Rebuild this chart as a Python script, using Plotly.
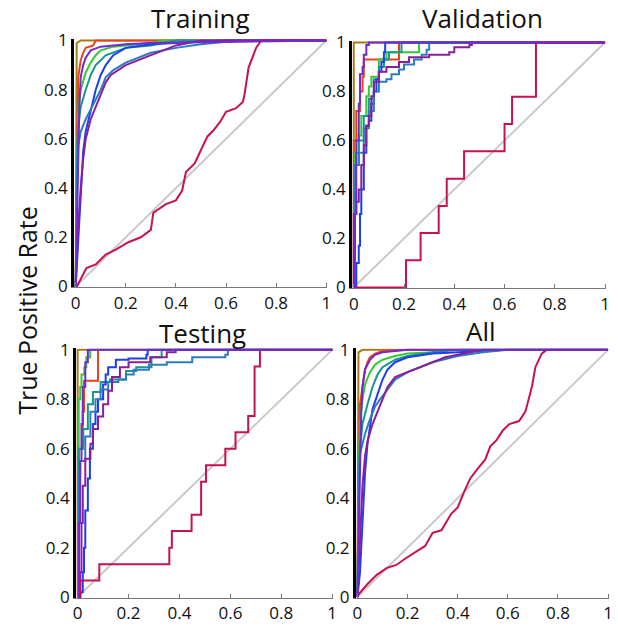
import plotly.graph_objects as go

# ROC curves of a 9-class classifier on four data splits
classes = ["Class 1", "Class 2", "Class 3", "Class 4", "Class 5",
           "Class 6", "Class 7", "Class 8", "Class 9"]
class_colors = ["#A97A17", "#E9421B", "#35C935", "#17968A", "#1E3CF2",
                "#2C7CC0", "#8A1E9B", "#C8124F", "#7228D4"]
panel_titles = ["Training", "Validation", "Testing", "All"]
tick_vals = [0, 0.2, 0.4, 0.6, 0.8, 1]
tick_text = ["0", "0.2", "0.4", "0.6", "0.8", "1"]

# ---------------- Training ----------------
train_fpr = {
    "Class 1": [0, 0.004, 0.02, 1],
    "Class 2": [0, 0.005, 0.01, 0.02, 0.03, 0.04, 0.07, 0.08, 1],
    "Class 3": [0, 0.005, 0.01, 0.02, 0.04, 0.06, 0.08, 0.1, 0.15, 0.2, 0.3, 0.35, 1],
    "Class 4": [0, 0.005, 0.01, 0.02, 0.04, 0.06, 0.08, 0.12, 0.2, 0.3, 0.4, 1],
    "Class 5": [0, 0.01, 0.02, 0.03, 0.04, 0.06, 0.08, 0.1, 0.12, 0.15, 0.2, 0.3, 0.4, 0.6, 1],
    "Class 6": [0, 0.005, 0.01, 0.02, 0.04, 0.06, 0.08, 0.1, 0.12, 0.15, 0.2, 0.25, 0.3, 0.4, 0.5, 0.6, 0.7, 1],
    "Class 7": [0, 0.01, 0.02, 0.03, 0.04, 0.06, 0.08, 0.1, 0.12, 0.14, 0.17, 0.2, 0.25, 0.3, 0.35, 0.4, 0.45, 0.5, 1],
    "Class 8": [0, 0.005, 0.03, 0.043, 0.08, 0.12, 0.16, 0.21, 0.26, 0.3, 0.31, 0.36, 0.4, 0.425, 0.44,
                0.475, 0.5, 0.526, 0.55, 0.577, 0.6, 0.64, 0.667, 0.673, 0.69, 0.72, 0.737, 0.74, 1],
    "Class 9": [0, 0.005, 0.01, 0.015, 0.02, 0.03, 0.04, 0.06, 0.1, 0.2, 0.3, 1],
}
train_tpr = {
    "Class 1": [0, 0.99, 1, 1],
    "Class 2": [0, 0.6, 0.85, 0.92, 0.95, 0.97, 0.98, 1, 1],
    "Class 3": [0, 0.5, 0.7, 0.8, 0.87, 0.91, 0.94, 0.96, 0.975, 0.98, 0.99, 1, 1],
    "Class 4": [0, 0.55, 0.65, 0.73, 0.8, 0.86, 0.9, 0.94, 0.97, 0.98, 1, 1],
    "Class 5": [0, 0.2, 0.4, 0.55, 0.63, 0.72, 0.8, 0.86, 0.9, 0.94, 0.97, 0.985, 0.99, 1, 1],
    "Class 6": [0, 0.45, 0.57, 0.63, 0.68, 0.72, 0.76, 0.8, 0.85, 0.88, 0.91, 0.93, 0.95, 0.97, 0.985, 0.995, 1, 1],
    "Class 7": [0, 0.25, 0.4, 0.52, 0.6, 0.68, 0.73, 0.78, 0.83, 0.86, 0.88, 0.9, 0.92, 0.94, 0.96, 0.98, 0.99, 1, 1],
    "Class 8": [0, 0, 0.05, 0.075, 0.09, 0.13, 0.15, 0.18, 0.2, 0.23, 0.3, 0.335, 0.35, 0.39, 0.465,
                0.5, 0.555, 0.61, 0.635, 0.67, 0.71, 0.725, 0.75, 0.775, 0.89, 0.97, 0.995, 1, 1],
    "Class 9": [0, 0.3, 0.6, 0.75, 0.85, 0.9, 0.93, 0.96, 0.975, 0.985, 0.99, 1],
}

# ---------------- Validation (staircase: rise to tpr at each fpr) ----------------
val_fpr = {
    "Class 1": [0, 0, 1],
    "Class 2": [0, 0, 0.01, 0.025, 0.035, 0.04, 0.18, 1],
    "Class 3": [0, 0.005, 0.02, 0.03, 0.05, 0.06, 0.07, 0.1, 0.13, 0.26, 1],
    "Class 4": [0, 0.005, 0.02, 0.04, 0.06, 0.08, 0.1, 0.12, 0.14, 0.19, 1],
    "Class 5": [0, 0.01, 0.02, 0.025, 0.03, 0.04, 0.05, 0.06, 0.07, 0.08, 0.09, 0.1, 0.11, 0.12, 0.125, 1],
    "Class 6": [0, 0.005, 0.02, 0.04, 0.06, 0.08, 0.1, 0.13, 0.15, 0.18, 0.2, 0.24, 0.27, 0.29, 0.3, 1],
    "Class 7": [0, 0, 0.01, 0.02, 0.03, 0.04, 0.05, 0.06, 0.07, 0.08, 0.1, 0.13, 0.18, 0.22, 0.3, 0.38, 0.4, 0.46, 0.47, 1],
    "Class 8": [0, 0.208, 0.266, 0.338, 0.37, 0.439, 0.6, 0.63, 0.725, 1],
    "Class 9": [0, 0.005, 0.01, 0.02, 0.025, 0.035, 0.04, 0.05, 0.06, 1],
}
val_tpr = {
    "Class 1": [0, 1, 1],
    "Class 2": [0, 0.6, 0.72, 0.8, 0.86, 0.93, 1, 1],
    "Class 3": [0, 0.55, 0.62, 0.7, 0.78, 0.82, 0.86, 0.93, 0.96, 1, 1],
    "Class 4": [0, 0.5, 0.6, 0.7, 0.77, 0.85, 0.9, 0.93, 0.96, 1, 1],
    "Class 5": [0, 0.1, 0.17, 0.3, 0.4, 0.55, 0.66, 0.68, 0.75, 0.8, 0.85, 0.88, 0.92, 0.96, 1, 1],
    "Class 6": [0, 0.5, 0.55, 0.65, 0.72, 0.8, 0.84, 0.85, 0.87, 0.89, 0.91, 0.93, 0.95, 0.97, 1, 1],
    "Class 7": [0, 0.3, 0.35, 0.4, 0.5, 0.58, 0.66, 0.7, 0.78, 0.84, 0.88, 0.9, 0.92, 0.94, 0.95, 0.96, 0.98, 0.99, 1, 1],
    "Class 8": [0, 0.111, 0.222, 0.333, 0.444, 0.556, 0.667, 0.778, 1, 1],
    "Class 9": [0, 0.3, 0.6, 0.75, 0.87, 0.9, 0.95, 0.99, 1, 1],
}

# ---------------- Testing (staircase) ----------------
test_fpr = {
    "Class 1": [0, 0, 1],
    "Class 2": [0, 0.004, 0.02, 0.025, 0.08, 1],
    "Class 3": [0, 0.004, 0.01, 0.015, 0.026, 0.034, 0.049, 1],
    "Class 4": [0, 0.004, 0.022, 0.04, 0.06, 0.09, 0.127, 0.18, 0.19, 0.23, 0.29, 0.33, 1],
    "Class 5": [0, 0.01, 0.02, 0.025, 0.03, 0.04, 0.048, 0.06, 0.07, 0.08, 0.1, 0.11, 0.12, 0.15, 0.2, 0.27, 0.275, 1],
    "Class 6": [0, 0.004, 0.01, 0.03, 0.05, 0.07, 0.09, 0.12, 0.16, 0.19, 0.22, 0.28, 0.35, 0.45, 0.58, 0.59, 1],
    "Class 7": [0, 0.01, 0.015, 0.02, 0.03, 0.05, 0.06, 0.08, 0.1, 0.12, 0.135, 0.166, 0.2, 0.285, 0.35, 0.385, 1],
    "Class 8": [0, 0.01, 0.085, 0.36, 0.37, 0.4475, 0.485, 0.504, 0.58, 0.62, 0.67, 0.695, 0.716, 1],
    "Class 9": [0, 0.005, 0.01, 0.015, 0.02, 0.03, 0.04, 1],
}
test_tpr = {
    "Class 1": [0, 1, 1],
    "Class 2": [0, 0.6, 0.75, 0.875, 1, 1],
    "Class 3": [0, 0.8, 0.85, 0.9, 0.93, 0.97, 1, 1],
    "Class 4": [0, 0.6, 0.68, 0.78, 0.83, 0.87, 0.88, 0.88, 0.915, 0.93, 0.97, 1, 1],
    "Class 5": [0, 0.02, 0.1, 0.2, 0.35, 0.48, 0.6, 0.7, 0.75, 0.8, 0.86, 0.9, 0.93, 0.96, 0.965, 0.98, 1, 1],
    "Class 6": [0, 0.5, 0.55, 0.65, 0.75, 0.8, 0.84, 0.87, 0.88, 0.9, 0.92, 0.94, 0.95, 0.97, 0.98, 1, 1],
    "Class 7": [0, 0.1, 0.3, 0.45, 0.56, 0.62, 0.68, 0.73, 0.78, 0.835, 0.89, 0.93, 0.95, 0.97, 0.99, 1, 1],
    "Class 8": [0, 0.067, 0.133, 0.2, 0.267, 0.333, 0.467, 0.533, 0.6, 0.667, 0.733, 0.933, 1, 1],
    "Class 9": [0, 0.3, 0.55, 0.7, 0.85, 0.95, 1, 1],
}

# ---------------- All ----------------
all_fpr = {
    "Class 1": [0, 0.004, 0.02, 1],
    "Class 2": [0, 0.005, 0.01, 0.02, 0.03, 0.04, 0.05, 0.07, 0.1, 0.2, 1],
    "Class 3": [0, 0.005, 0.01, 0.02, 0.03, 0.05, 0.07, 0.1, 0.15, 0.2, 0.3, 0.35, 1],
    "Class 4": [0, 0.005, 0.01, 0.02, 0.04, 0.06, 0.08, 0.1, 0.15, 0.2, 0.3, 0.4, 1],
    "Class 5": [0, 0.01, 0.02, 0.03, 0.04, 0.05, 0.06, 0.08, 0.1, 0.12, 0.15, 0.2, 0.3, 0.4, 0.6, 1],
    "Class 6": [0, 0.005, 0.01, 0.03, 0.05, 0.07, 0.09, 0.12, 0.15, 0.2, 0.25, 0.3, 0.4, 0.5, 0.6, 1],
    "Class 7": [0, 0.01, 0.02, 0.03, 0.04, 0.06, 0.08, 0.1, 0.12, 0.15, 0.2, 0.25, 0.3, 0.35, 0.4, 0.45, 0.5, 1],
    "Class 8": [0, 0.006, 0.039, 0.077, 0.116, 0.155, 0.19, 0.23, 0.27, 0.3, 0.335, 0.374, 0.4, 0.426,
                0.45, 0.48, 0.51, 0.53, 0.555, 0.58, 0.606, 0.645, 0.67, 0.684, 0.697, 0.71, 0.735, 0.755, 1],
    "Class 9": [0, 0.005, 0.01, 0.015, 0.02, 0.03, 0.05, 0.07, 0.1, 0.2, 1],
}
all_tpr = {
    "Class 1": [0, 0.99, 1, 1],
    "Class 2": [0, 0.6, 0.78, 0.86, 0.92, 0.95, 0.97, 0.985, 0.995, 1, 1],
    "Class 3": [0, 0.55, 0.7, 0.8, 0.86, 0.91, 0.94, 0.96, 0.975, 0.985, 0.99, 1, 1],
    "Class 4": [0, 0.5, 0.6, 0.7, 0.78, 0.85, 0.9, 0.93, 0.96, 0.975, 0.99, 1, 1],
    "Class 5": [0, 0.1, 0.3, 0.5, 0.62, 0.7, 0.76, 0.82, 0.88, 0.92, 0.95, 0.97, 0.985, 0.99, 1, 1],
    "Class 6": [0, 0.45, 0.58, 0.66, 0.72, 0.77, 0.8, 0.84, 0.88, 0.91, 0.93, 0.95, 0.975, 0.99, 1, 1],
    "Class 7": [0, 0.25, 0.45, 0.57, 0.63, 0.7, 0.75, 0.8, 0.85, 0.89, 0.91, 0.93, 0.95, 0.97, 0.98, 0.99, 1, 1],
    "Class 8": [0, 0.013, 0.052, 0.09, 0.117, 0.13, 0.155, 0.18, 0.207, 0.26, 0.27, 0.337, 0.363, 0.427,
                0.48, 0.52, 0.557, 0.61, 0.635, 0.674, 0.7, 0.712, 0.75, 0.803, 0.855, 0.93, 0.985, 1, 1],
    "Class 9": [0, 0.3, 0.6, 0.75, 0.85, 0.92, 0.96, 0.98, 0.99, 1, 1],
}

panel_fpr = [train_fpr, val_fpr, test_fpr, all_fpr]
panel_tpr = [train_tpr, val_tpr, test_tpr, all_tpr]
panel_shape = ["linear", "hv", "hv", "linear"]

# subplot placement (paper fractions)
x_domains = [[0.1165, 0.5307], [0.5716, 0.9870], [0.1197, 0.5405], [0.5777, 0.9919]]
y_domains = [[0.5460, 0.9540], [0.5444, 0.9508], [0.0360, 0.4460], [0.0360, 0.4460]]
title_pos = [(0.3236, 0.989), (0.785, 0.988), (0.327, 0.471), (0.782, 0.474)]

fig = go.Figure()
for p in range(4):
    xa = "x" if p == 0 else f"x{p + 1}"
    ya = "y" if p == 0 else f"y{p + 1}"
    # chance line
    fig.add_trace(go.Scatter(x=[0, 1], y=[0, 1], mode="lines", xaxis=xa, yaxis=ya,
                             line=dict(color="#C9C9C9", width=2), showlegend=False,
                             hoverinfo="skip"))
    for cls, col in zip(classes, class_colors):
        fig.add_trace(go.Scatter(
            x=panel_fpr[p][cls], y=panel_tpr[p][cls], mode="lines",
            xaxis=xa, yaxis=ya, name=cls, showlegend=False,
            line=dict(color=col, width=2, shape=panel_shape[p])))

layout = dict(
    width=618, height=630, margin=dict(l=0, r=0, t=0, b=0),
    paper_bgcolor="white", plot_bgcolor="white",
    font=dict(family="Open Sans", color="#111111"),
)
annotations = []
for p in range(4):
    sfx = "" if p == 0 else str(p + 1)
    layout["xaxis" + sfx] = dict(
        domain=x_domains[p], anchor="y" + sfx, range=[-0.006, 1.004],
        tickvals=tick_vals, ticktext=tick_text, ticks="inside", ticklen=4,
        tickcolor="#777777", showline=True, linecolor="#777777", linewidth=1,
        showgrid=False, zeroline=False, tickfont=dict(size=17, color="#111111"),
        fixedrange=True)
    layout["yaxis" + sfx] = dict(
        domain=y_domains[p], anchor="x" + sfx, range=[-0.004, 1.006],
        tickvals=tick_vals, ticktext=tick_text, ticks="",
        showline=True, linecolor="#000000", linewidth=3,
        showgrid=False, zeroline=False, tickfont=dict(size=17, color="#111111"),
        fixedrange=True)
    annotations.append(dict(
        text=panel_titles[p], x=title_pos[p][0], y=title_pos[p][1],
        xref="paper", yref="paper", showarrow=False, xanchor="center", yanchor="middle",
        font=dict(size=26, color="#111111")))

annotations.append(dict(
    text="True Positive Rate", x=0.038, y=0.508, xref="paper", yref="paper",
    showarrow=False, textangle=-90, xanchor="center", yanchor="middle",
    font=dict(size=25, color="#111111")))
layout["annotations"] = annotations

fig.update_layout(**layout)
fig.write_html("out.html")
